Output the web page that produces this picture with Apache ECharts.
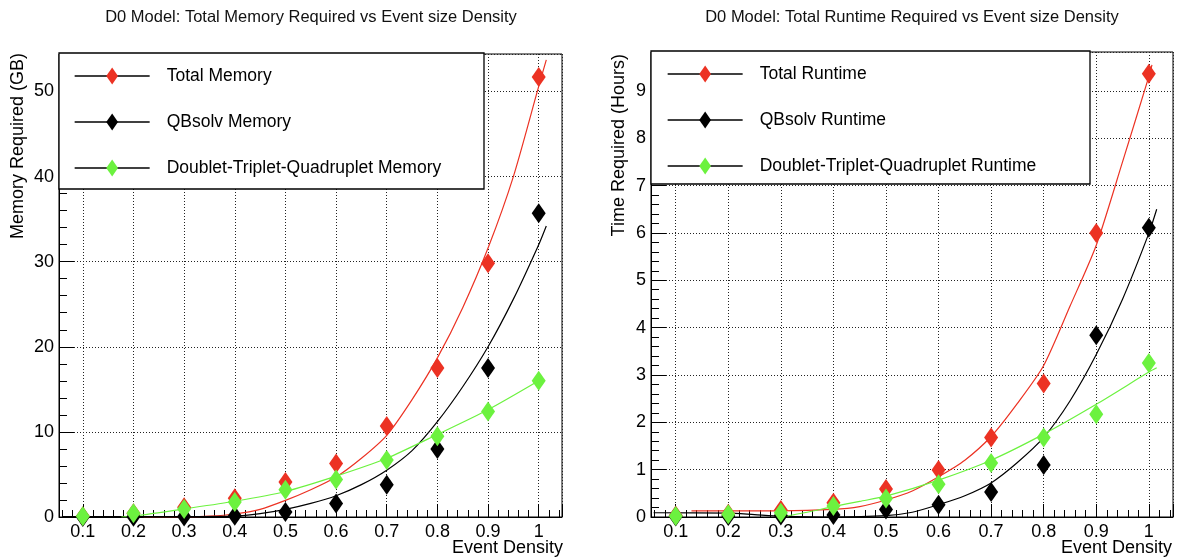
<!DOCTYPE html>
<html>
<head>
<meta charset="utf-8">
<script src="https://cdn.jsdelivr.net/npm/echarts@6/dist/echarts.min.js"></script>
<style>
  html, body { margin: 0; padding: 0; background: #fff; }
  #chart { width: 1177px; height: 557px; }
</style>
</head>
<body>
<div id="chart"></div>
<script>
// Event density values where each configuration was measured
const densities = [0.1, 0.2, 0.3, 0.4, 0.5, 0.6, 0.7, 0.8, 0.9, 1.0];

// Memory required (GB)
const memTotal  = [0.1, 0.45, 1.15, 2.2, 4.1, 6.3, 10.7, 17.5, 29.8, 51.7];
const memQbsolv = [0.0, 0.02, 0.05, 0.15, 0.6, 1.6, 3.8, 8.0, 17.5, 35.7];
const memDtq    = [0.1, 0.45, 0.95, 1.75, 3.2, 4.4, 6.7, 9.5, 12.4, 16.0];

// Runtime required (hours)
const timeTotal  = [0.03, 0.07, 0.15, 0.3, 0.59, 0.99, 1.68, 2.82, 6.0, 9.36];
const timeQbsolv = [0.01, 0.02, 0.03, 0.04, 0.16, 0.26, 0.53, 1.1, 3.84, 6.11];
const timeDtq    = [0.02, 0.056, 0.09, 0.23, 0.39, 0.69, 1.14, 1.68, 2.17, 3.25];

// Fitted trend curves, sampled as [density, value]
const memTotalFit = [[0.22,0],[0.3,0.02],[0.35,0.1],[0.4,0.35],[0.45,0.9],[0.5,1.95],[0.55,3.2],[0.6,4.7],[0.65,6.9],[0.7,9.6],[0.75,13.8],[0.8,18.7],[0.85,24.6],[0.9,31.6],[0.95,40.0],[1.0,50.6],[1.015,53.7]];
const memQbsolvFit = [[0.06,0.05],[0.2,0.05],[0.3,0.05],[0.4,0.1],[0.45,0.4],[0.5,0.9],[0.55,1.6],[0.6,2.5],[0.65,3.8],[0.7,5.5],[0.75,7.8],[0.8,11.2],[0.85,15.3],[0.9,20.0],[0.95,25.6],[1.0,32.0],[1.015,34.2]];
const memDtqFit = [[0.176,0],[0.2,0.1],[0.3,0.95],[0.4,1.85],[0.5,3.0],[0.6,4.8],[0.7,6.9],[0.8,9.7],[0.9,12.6],[1.0,16.0]];

const timeTotalFit = [[0.13,0.13],[0.2,0.13],[0.3,0.13],[0.4,0.16],[0.45,0.22],[0.5,0.36],[0.55,0.55],[0.6,0.85],[0.65,1.2],[0.7,1.7],[0.75,2.4],[0.8,3.2],[0.85,4.45],[0.9,5.74],[0.95,7.5],[1.0,9.3],[1.006,9.55]];
const timeQbsolvFit = [[0.058,0.09],[0.2,0.08],[0.25,0.05],[0.3,0.02],[0.4,0.0],[0.5,0.03],[0.55,0.1],[0.6,0.26],[0.65,0.45],[0.7,0.72],[0.75,1.15],[0.8,1.68],[0.85,2.45],[0.9,3.43],[0.95,4.6],[1.0,5.99],[1.015,6.5]];
const timeDtqFit = [[0.3,0.0],[0.35,0.1],[0.4,0.22],[0.45,0.33],[0.5,0.44],[0.6,0.78],[0.7,1.2],[0.8,1.75],[0.9,2.38],[1.0,3.06],[1.015,3.15]];

const memNames  = ['Total Memory', 'QBsolv Memory', 'Doublet-Triplet-Quadruplet Memory'];
const timeNames = ['Total Runtime', 'QBsolv Runtime', 'Doublet-Triplet-Quadruplet Runtime'];

const FONT = '"Liberation Sans", Arial, Helvetica, sans-serif';
const RED = '#ec3223';
const BLACK = '#000000';
const GREEN = '#6cf23f';
// tall diamond inside a square box (the stray moves fix the box to 1x1)
const DIAMOND = 'path://M0,0M1,1M0.5,0L0.85,0.5L0.5,1L0.15,0.5Z';

const chart = echarts.init(document.getElementById('chart'), null, { renderer: 'canvas' });

function pairs(ys) { return densities.map((x, i) => [x, ys[i]]); }

function markerSeries(name, ys, color, idx) {
  return {
    name, type: 'line', xAxisIndex: idx, yAxisIndex: idx,
    data: pairs(ys),
    symbol: DIAMOND, symbolSize: 20, showSymbol: true, showAllSymbol: true,
    lineStyle: { opacity: 0 },
    itemStyle: { color, borderWidth: 0 },
    emphasis: { disabled: true }, silent: true, clip: false
  };
}
function fitSeries(name, pts, color, idx) {
  return {
    name, type: 'line', xAxisIndex: idx, yAxisIndex: idx,
    data: pts, symbol: 'none', showSymbol: false,
    smooth: 0.25,
    lineStyle: { color, width: 1.2 },
    emphasis: { disabled: true }, silent: true
  };
}

function xAxisFor(idx) {
  return {
    type: 'value', gridIndex: idx, min: 0.053, max: 1.046,
    splitNumber: 10, minInterval: 0.1, maxInterval: 0.1,
    axisLine: { show: true, lineStyle: { color: '#000', width: 1 } },
    axisTick: { show: true, inside: true, length: 13, lineStyle: { color: '#000' } },
    minorTick: { show: true, splitNumber: 5, length: 7, lineStyle: { color: '#000' } },
    axisLabel: { show: true, margin: 6, fontSize: 18, color: '#000', fontFamily: FONT,
                 showMinLabel: false, showMaxLabel: false },
    splitLine: { show: true, lineStyle: { color: '#222', width: 1, type: [1, 2] } }
  };
}
function yAxisFor(idx, max, step) {
  return {
    type: 'value', gridIndex: idx, min: 0, max,
    minInterval: step, maxInterval: step,
    axisLine: { show: true, lineStyle: { color: '#000', width: 1 } },
    axisTick: { show: true, inside: true, length: 15, lineStyle: { color: '#000' } },
    minorTick: { show: true, splitNumber: 5, length: 8, lineStyle: { color: '#000' } },
    axisLabel: { show: true, margin: 5, fontSize: 18, color: '#000', fontFamily: FONT,
                 showMaxLabel: false },
    splitLine: { show: true, lineStyle: { color: '#222', width: 1, type: [1, 2] } }
  };
}
function legendFor(names, left, top) {
  return {
    data: names, orient: 'vertical', left, top, padding: 0,
    itemWidth: 75, itemHeight: 21, itemGap: 28,
    selectedMode: false, z: 20,
    textStyle: { fontSize: 17.5, color: '#000', fontFamily: FONT, padding: [0, 0, 0, 12] },
    lineStyle: { color: '#000', width: 1.3, opacity: 1, type: 'solid' }
  };
}

const titleStyle = { fontSize: 16.5, fontWeight: 'normal', color: '#111', fontFamily: FONT };

const option = {
  animation: false,
  backgroundColor: '#fff',
  title: [
    { text: 'D0 Model: Total Memory Required vs Event size Density', left: 311, top: 9,
      textAlign: 'center', padding: 0, textStyle: titleStyle },
    { text: 'D0 Model: Total Runtime Required vs Event size Density', left: 912, top: 9,
      textAlign: 'center', padding: 0, textStyle: titleStyle }
  ],
  grid: [
    { left: 59, top: 54, width: 503, height: 463, show: true, borderColor: '#000', borderWidth: 1, backgroundColor: 'transparent' },
    { left: 651, top: 52, width: 522, height: 465, show: true, borderColor: '#000', borderWidth: 1, backgroundColor: 'transparent' }
  ],
  xAxis: [xAxisFor(0), xAxisFor(1)],
  yAxis: [yAxisFor(0, 54.4, 10), yAxisFor(1, 9.82, 1)],
  legend: [legendFor(memNames, 74, 67), legendFor(timeNames, 667, 65)],
  graphic: [
    { type: 'rect', z: 10, shape: { x: 59, y: 53, width: 425, height: 136 },
      style: { fill: '#fff', stroke: '#000', lineWidth: 1.3 } },
    { type: 'rect', z: 10, shape: { x: 651, y: 51, width: 439, height: 133 },
      style: { fill: '#fff', stroke: '#000', lineWidth: 1.3 } },
    { type: 'text', z: 10, x: 18, y: 53, rotation: Math.PI / 2,
      style: { text: 'Memory Required (GB)', font: '18px ' + FONT, fill: '#000', align: 'right', verticalAlign: 'middle' } },
    { type: 'text', z: 10, x: 619, y: 54, rotation: Math.PI / 2,
      style: { text: 'Time Required (Hours)', font: '18px ' + FONT, fill: '#000', align: 'right', verticalAlign: 'middle' } },
    { type: 'text', z: 10, x: 563, y: 548,
      style: { text: 'Event Density', font: '18px ' + FONT, fill: '#000', align: 'right', verticalAlign: 'middle' } },
    { type: 'text', z: 10, x: 1172, y: 548,
      style: { text: 'Event Density', font: '18px ' + FONT, fill: '#000', align: 'right', verticalAlign: 'middle' } }
  ],
  series: [
    markerSeries(memNames[0], memTotal, RED, 0),
    fitSeries('Total Memory fit', memTotalFit, RED, 0),
    markerSeries(memNames[1], memQbsolv, BLACK, 0),
    fitSeries('QBsolv Memory fit', memQbsolvFit, BLACK, 0),
    markerSeries(memNames[2], memDtq, GREEN, 0),
    fitSeries('Doublet-Triplet-Quadruplet Memory fit', memDtqFit, GREEN, 0),
    markerSeries(timeNames[0], timeTotal, RED, 1),
    fitSeries('Total Runtime fit', timeTotalFit, RED, 1),
    markerSeries(timeNames[1], timeQbsolv, BLACK, 1),
    fitSeries('QBsolv Runtime fit', timeQbsolvFit, BLACK, 1),
    markerSeries(timeNames[2], timeDtq, GREEN, 1),
    fitSeries('Doublet-Triplet-Quadruplet Runtime fit', timeDtqFit, GREEN, 1)
  ]
};

chart.setOption(option);
</script>
</body>
</html>
